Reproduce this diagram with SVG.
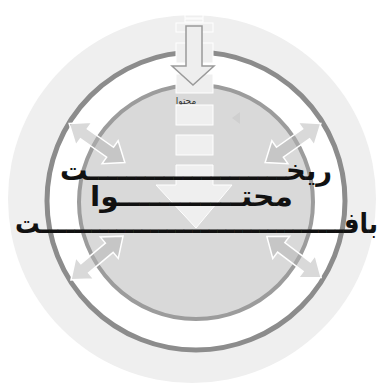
<svg xmlns="http://www.w3.org/2000/svg" width="381" height="387" viewBox="0 0 381 387">
<defs>
<style>
.blk{fill:#efefef;stroke:#ffffff;stroke-width:1}
.dbl{fill:#b4b4b4;fill-opacity:0.5;stroke:#ffffff;stroke-width:1.5}
.lbl{font-family:"DejaVu Sans",sans-serif;font-weight:bold;font-size:28px;fill:#111;text-anchor:middle}
</style>
<path id="da" d="M-34,0 L-16,-14 L-16,-6 L16,-6 L16,-14 L34,0 L16,14 L16,6 L-16,6 L-16,14 Z"/>
</defs>
<rect width="381" height="387" fill="#ffffff"/>
<g id="outer"><circle cx="192" cy="199" r="184" fill="#efefef"/></g>
<g id="ring"><circle cx="196" cy="201" r="149" fill="#ffffff" stroke="#8c8c8c" stroke-width="5"/></g>
<g id="inner"><circle cx="196" cy="202" r="117" fill="#d9d9d9" stroke="#9c9c9c" stroke-width="4"/>
<text x="186" y="104" font-family="DejaVu Sans,sans-serif" font-size="9" fill="#333" text-anchor="middle">محتوا</text>
<path d="M232,118 L240,112 L240,124 Z" fill="#cfcfcf"/>
</g>
<g id="flow">
<rect x="185" y="15" width="18" height="3" class="blk" stroke="#bbb"/>
<rect x="185" y="19" width="18" height="3" class="blk" stroke="#bbb"/>
<rect x="176" y="23" width="37" height="9" class="blk"/>
<rect x="176" y="43" width="37" height="20" class="blk"/>
<rect x="176" y="74" width="37" height="19" class="blk"/>
<path d="M186,26 L202,26 L202,66 L214,66 L193,85 L172,66 L186,66 Z" fill="#eeeeee" stroke="#9a9a9a" stroke-width="1.5"/>
<rect x="176" y="105" width="37" height="20" class="blk"/>
<rect x="176" y="135" width="37" height="20" class="blk"/>
<path d="M176,165 L213,165 L213,185 L232,185 L196,228 L156,185 L176,185 Z" class="blk"/>
</g>
<g id="connectors">
<use href="#da" class="dbl" transform="translate(97,143) rotate(35)"/>
<use href="#da" class="dbl" transform="translate(293,143) rotate(-35)"/>
<use href="#da" class="dbl" transform="translate(97,258) rotate(-40)"/>
<use href="#da" class="dbl" transform="translate(294,257) rotate(37)"/>
</g>
<g id="labels">
<text class="lbl" x="196" y="180" textLength="272" lengthAdjust="spacingAndGlyphs">ریخـــــــــــــــــــــت</text>
<text class="lbl" x="191.5" y="206" textLength="203" lengthAdjust="spacingAndGlyphs">محتــــــــــــوا</text>
<text class="lbl" x="196.5" y="233" textLength="363" lengthAdjust="spacingAndGlyphs">بافــــــــــــــــــــــــــــــــــــت</text>
</g>
</svg>
